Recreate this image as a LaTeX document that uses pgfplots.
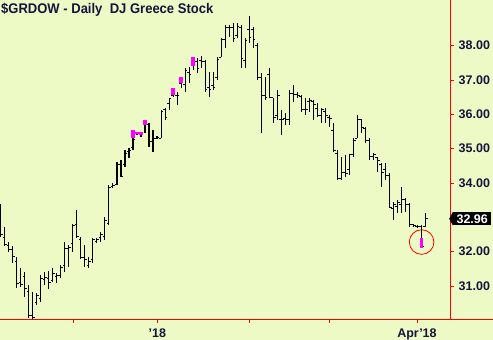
\documentclass[border=0pt]{standalone}
\usepackage{fontspec}
\setmainfont{Liberation Sans}
\usepackage{pgfplots}
\pgfplotsset{compat=1.18}
\usepackage{pgfplotstable}
\definecolor{bg}{RGB}{238,250,198}
\definecolor{navy}{RGB}{20,20,60}
\definecolor{mag}{RGB}{255,0,255}

\pgfplotstableread{
i o h l c
0 33.27 33.39 32.43 32.49
1 32.40 32.72 32.17 32.22
2 32.19 32.28 31.99 32.05
3 32.05 32.17 31.67 31.87
4 31.70 31.85 30.94 31.06
5 31.09 31.52 30.97 31.03
6 31.29 31.41 30.68 30.94
7 30.83 31.03 30.07 30.13
8 30.13 30.83 30.04 30.07
9 30.51 30.80 30.45 30.71
10 30.65 31.32 30.53 31.23
11 31.18 31.41 31.03 31.26
12 31.23 31.44 30.91 31.09
13 31.15 31.52 31.12 31.35
14 31.29 31.38 31.09 31.32
15 31.32 31.61 31.23 31.55
16 31.61 32.28 31.41 32.08
17 32.08 32.19 31.55 32.11
18 32.25 32.81 31.99 32.75
19 32.78 33.21 32.40 32.43
20 32.34 32.43 31.79 31.82
21 31.82 32.19 31.55 31.76
22 31.61 31.85 31.52 31.70
23 31.76 32.40 31.67 32.34
24 32.31 32.40 32.25 32.34
25 32.40 32.57 32.28 32.49
26 32.43 33.01 32.34 32.92
27 32.81 33.94 32.78 33.88
28 33.91 34.00 33.86 33.94
29 33.97 34.61 33.94 34.53
30 34.53 34.67 34.18 34.20
31 34.53 34.96 34.47 34.87
32 34.93 35.02 34.73 34.96
33 35.02 35.54 34.96 35.28
34 35.43 35.50 35.40 35.46
35 35.46 35.49 35.34 35.40
36 35.69 35.84 35.46 35.75
37 35.69 35.75 35.05 35.20
38 35.20 35.54 34.90 35.31
39 35.31 35.37 35.28 35.34
40 35.31 36.13 35.31 36.07
41 36.13 36.19 35.84 35.92
42 36.33 36.48 36.13 36.45
43 36.56 36.77 36.51 36.71
44 36.56 36.65 36.27 36.54
45 36.91 37.09 36.77 37.00
46 36.86 37.35 36.65 37.29
47 37.23 37.38 36.91 37.15
48 37.41 37.67 37.29 37.58
49 37.53 37.64 37.20 37.35
50 37.58 37.70 37.35 37.53
51 37.53 37.58 36.65 36.71
52 36.77 37.23 36.51 36.71
53 36.83 37.23 36.71 36.77
54 37.06 37.67 37.00 37.61
55 37.67 38.22 37.67 38.17
56 38.17 38.60 37.93 38.54
57 38.54 38.60 38.25 38.52
58 38.52 38.66 38.11 38.22
59 38.31 38.66 38.22 38.57
60 38.54 38.60 37.35 37.64
61 37.58 38.22 37.35 38.14
62 38.46 38.87 38.08 38.25
63 38.46 38.54 37.93 38.17
64 38.02 38.08 37.00 37.06
65 37.06 37.20 35.46 36.56
66 36.56 37.09 36.42 36.48
67 37.15 37.35 36.48 36.48
68 36.48 36.48 35.75 35.92
69 35.98 36.71 35.84 36.56
70 35.84 36.13 35.40 35.84
71 35.89 36.04 35.69 35.84
72 35.84 36.71 35.69 36.62
73 36.62 36.86 36.36 36.59
74 36.59 36.65 36.48 36.56
75 36.51 36.56 36.07 36.13
76 36.13 36.48 35.98 36.13
77 36.36 36.48 36.07 36.39
78 36.36 36.42 35.84 36.30
79 36.16 36.33 35.92 35.98
80 35.98 36.19 35.75 36.13
81 36.07 36.19 35.75 35.98
82 35.92 35.98 35.63 35.89
83 35.54 35.75 34.90 34.96
84 34.87 34.96 34.09 34.12
85 34.12 34.76 34.09 34.32
86 34.32 34.82 34.18 34.29
87 34.38 34.82 34.23 34.82
88 34.82 35.31 34.76 35.25
89 35.31 35.98 35.31 35.84
90 35.84 35.86 35.46 35.63
91 35.60 35.62 35.17 35.25
92 35.25 35.31 34.67 34.76
93 34.76 34.87 34.67 34.82
94 34.73 34.76 34.32 34.67
95 34.53 34.58 33.88 34.32
96 34.38 34.58 34.09 34.23
97 34.23 34.29 33.27 33.30
98 33.27 33.45 32.92 33.36
99 33.33 33.51 33.13 33.42
100 33.36 33.88 33.13 33.51
101 33.51 33.56 33.16 33.36
102 33.36 33.42 32.72 32.78
103 32.78 32.81 32.72 32.75
104 32.73 32.78 32.69 32.73
105 32.72 32.78 32.11 32.14
106 32.72 33.13 32.72 32.97
}\ohlc

\pgfplotstableread{
i lo hi
33 35.31 35.54
34 35.43 35.50
35 35.40 35.49
36 35.69 35.84
43 36.56 36.77
45 36.91 37.09
48 37.41 37.67
105 32.11 32.40
}\magbars

\begin{document}
\begin{tikzpicture}
\path[use as bounding box, fill=bg] (0pt,-20.7pt) rectangle (493pt,319.3pt);
\begin{axis}[
  at={(0pt,0pt)}, anchor=south west,
  width=450pt, height=319.3pt, scale only axis,
  xmin=-0.175, xmax=112.08, ymin=30.03, ymax=39.331,
  axis x line*=bottom, axis y line*=right,
  axis line style={red, line width=1pt, -},
  tick style={red, line width=0.9pt},
  tick align=outside, major tick length=3.5pt,
  xtick={18.11,39.06,62.11,81.97,103.84},
  xticklabels={,'18,,,Apr'18},
  ytick={31,32,34,35,36,37,38},
  yticklabel style={anchor=west, inner sep=0pt, xshift=5pt, text=navy,
    font=\bfseries\fontsize{12.5}{12.5}\selectfont,
    /pgf/number format/.cd, fixed, fixed zerofill, precision=2, assume math mode=true},
  xticklabel style={anchor=north, inner sep=0pt, yshift=-5.5pt, text=navy,
    font=\bfseries\fontsize{12.5}{12.5}\selectfont},
  clip=false,
]
% high-low lines
\addplot[draw=none, mark=none, forget plot, error bars/.cd, y dir=plus, y explicit, error mark=none,
  error bar style={draw=black, line width=1.1pt}]
  table[x=i, y=l, y error expr=\thisrow{h}-\thisrow{l}] {\ohlc};
% open ticks
\addplot[draw=none, mark=none, forget plot, error bars/.cd, x dir=minus, x fixed=0.55, error mark=none,
  error bar style={draw=black, line width=1pt}]
  table[x=i, y=o] {\ohlc};
% close ticks
\addplot[draw=none, mark=none, forget plot, error bars/.cd, x dir=plus, x fixed=0.55, error mark=none,
  error bar style={draw=black, line width=1pt}]
  table[x=i, y=c] {\ohlc};
% magenta segments
\addplot[draw=none, mark=none, forget plot, error bars/.cd, y dir=plus, y explicit, error mark=none,
  error bar style={draw=mag, line width=3.6pt}]
  table[x=i, y=lo, y error expr=\thisrow{hi}-\thisrow{lo}] {\magbars};
% circle
\addplot[only marks, mark=o, mark size=12.3pt, mark options={draw=red, fill=none, line width=0.8pt}] coordinates {(105,32.28)};
% last price label
\node[fill=black, text=white, font=\bfseries\fontsize{12.5}{12.5}\selectfont, anchor=west,
  inner sep=0pt, minimum height=13.4pt, minimum width=38pt, xshift=3pt] (pl) at (axis cs:112.08,32.96) {32.96};
\fill[black] (pl.north west) -- ([xshift=-3.8pt]pl.west) -- (pl.south west) -- cycle;
\end{axis}
\draw[red, line width=1pt] (450pt,0pt) -- (493pt,0pt);
\node[anchor=base west, inner sep=0pt, text=navy] at (1pt,305.3pt)
  {\scalebox{0.93}[1]{\bfseries\fontsize{14}{14}\selectfont \$GRDOW - Daily\hspace{4pt} DJ Greece Stock}};
\end{tikzpicture}
\end{document}
